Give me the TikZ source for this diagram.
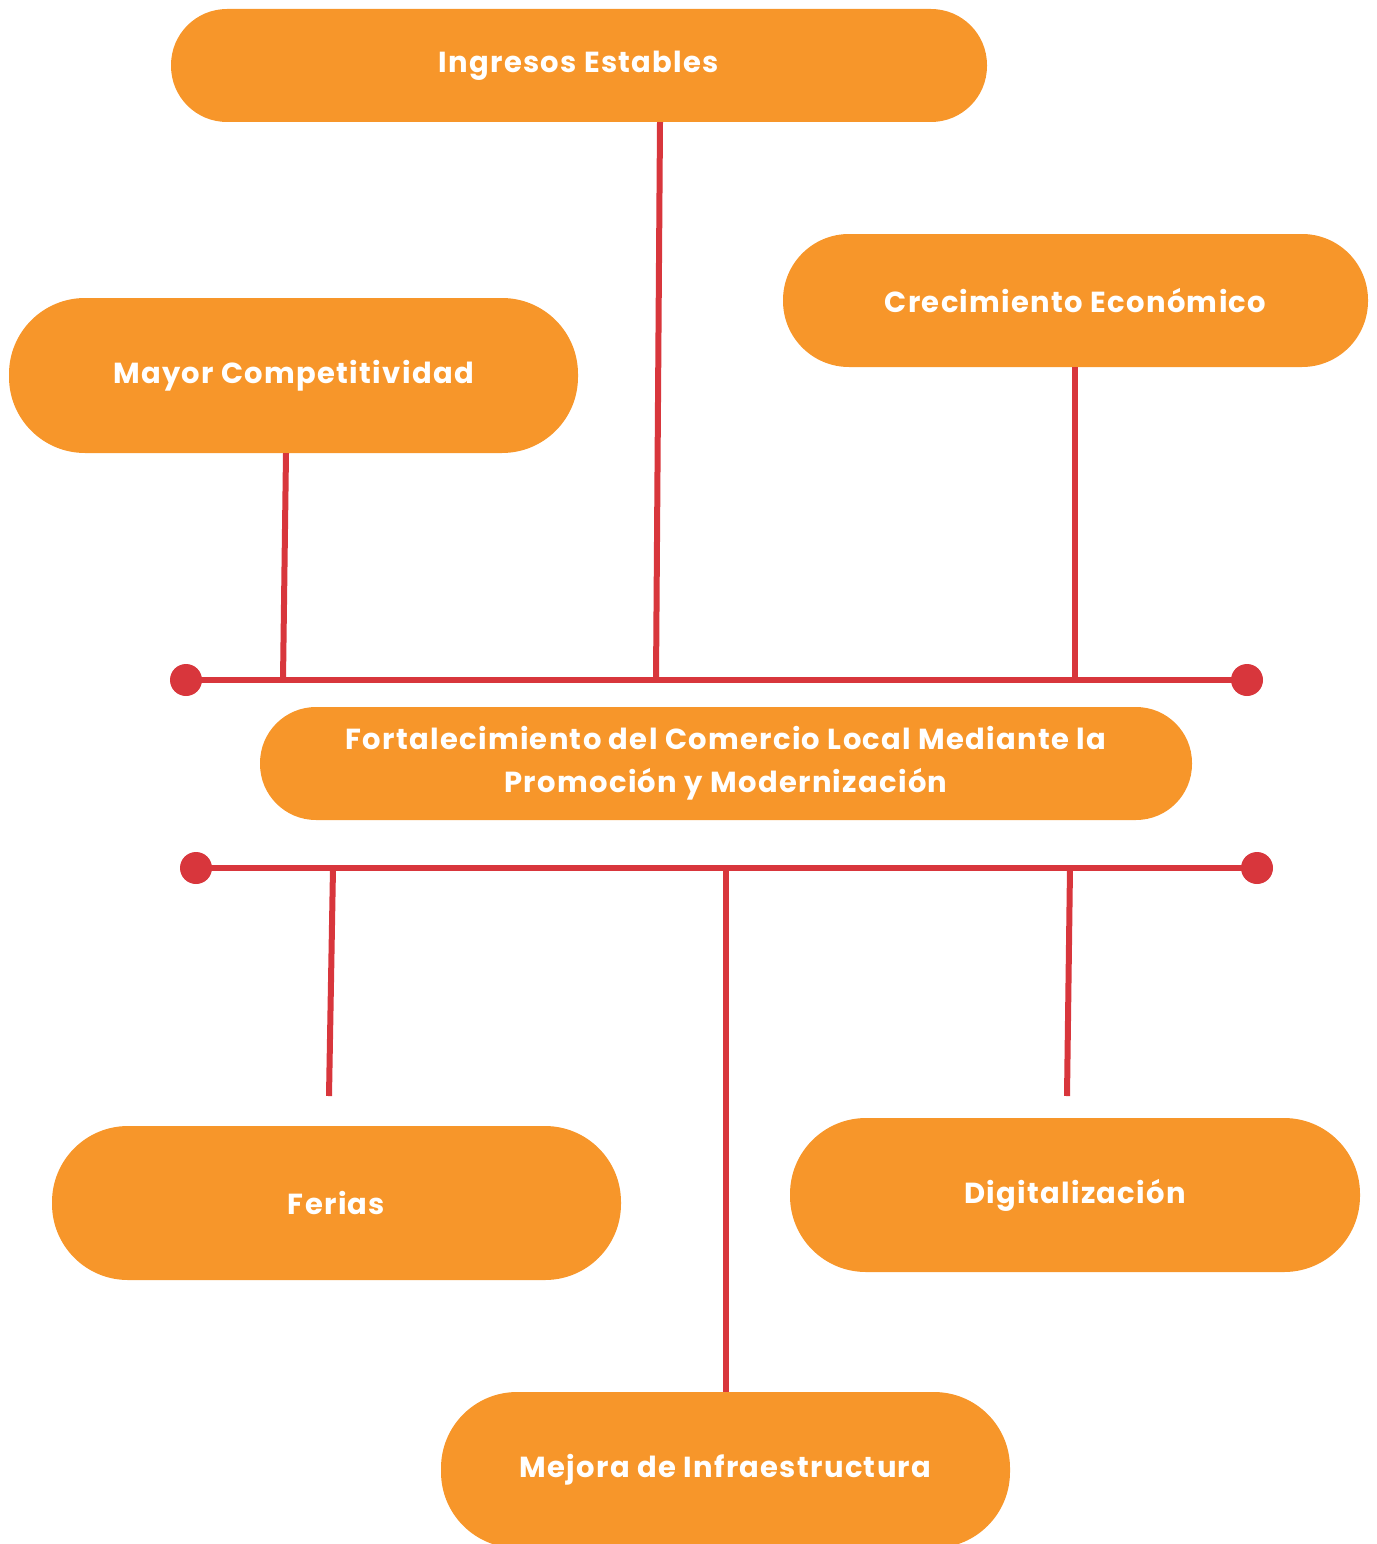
\documentclass[tikz,border=0pt]{standalone}
\usepackage{fontspec}
\setmainfont{Poppins}[LetterSpace=4.5]
\definecolor{boxorange}{HTML}{F7962A}
\definecolor{linered}{HTML}{D8363C}
\tikzset{
  pill/.style={fill=boxorange, rounded corners=#1, text=white, align=center,
    inner sep=0pt, font=\bfseries\fontsize{29}{43}\selectfont},
  pill/.default=56pt,
  bus/.style={linered, line width=6pt},
  busdot/.style={fill=linered, draw=none},
}
\begin{document}
\begin{tikzpicture}[x=1pt,y=-1pt]
  \useasboundingbox (0,0) rectangle (1376,1544);

  % effects
  \node[pill, minimum width=816pt, minimum height=113pt] (ingresos) at (579,65.5) {Ingresos Estables};
  \node[pill=76pt, minimum width=569pt, minimum height=155pt] (mayor) at (293.5,375.5) {Mayor Competitividad};
  \node[pill=66pt, minimum width=585pt, minimum height=133pt] (crecim) at (1075.5,300.5) {Crecimiento Económico};

  % central problem
  \node[pill, minimum width=932pt, minimum height=113pt] (centro) at (726,763.5)
    {Fortalecimiento del Comercio Local Mediante la\\Promoción y Modernización};

  % causes
  \node[pill=76pt, minimum width=569pt, minimum height=154pt] (ferias) at (336.5,1203) {Ferias};
  \node[pill=76pt, minimum width=570pt, minimum height=154pt] (digital) at (1075,1195) {Digitalización};
  \node[pill=76pt, minimum width=569pt, minimum height=156pt] (mejora) at (725.5,1470) {Mejora de Infraestructura};

  % upper bus
  \coordinate (topL) at (186,680);
  \coordinate (topR) at (1247,680);
  \coordinate (jmayor) at (283,680);
  \coordinate (jingresos) at (656,680);
  \coordinate (jcrecim) at (1075,680);
  \draw[bus] (topL) -- (topR);
  \draw[bus] ([xshift=-7.5pt]mayor.south) -- (jmayor);
  \draw[bus] ([xshift=81pt]ingresos.south) -- (jingresos);
  \draw[bus] ([xshift=-0.5pt]crecim.south) -- (jcrecim);
  \filldraw[busdot] (topL) circle (16pt);
  \filldraw[busdot] (topR) circle (16pt);

  % lower bus
  \coordinate (botL) at (196,868);
  \coordinate (botR) at (1257,868);
  \coordinate (jferias) at (333,868);
  \coordinate (jmejora) at (726,868);
  \coordinate (jdigital) at (1070,868);
  \coordinate (eferias) at (329,1096);
  \coordinate (edigital) at (1067,1096);
  \draw[bus] (botL) -- (botR);
  \draw[bus] (jferias) -- (eferias);
  \draw[bus] (jmejora) -- ([xshift=0.5pt]mejora.north);
  \draw[bus] (jdigital) -- (edigital);
  \filldraw[busdot] (botL) circle (16pt);
  \filldraw[busdot] (botR) circle (16pt);
\end{tikzpicture}
\end{document}
